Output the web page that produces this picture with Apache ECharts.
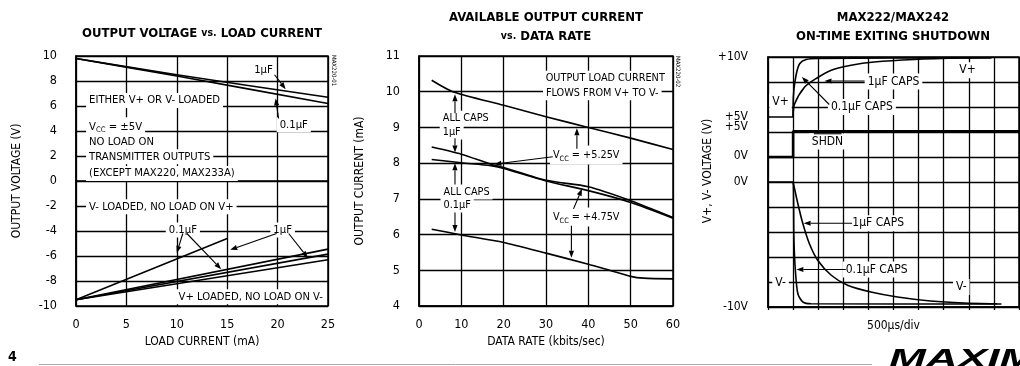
<!DOCTYPE html>
<html>
<head>
<meta charset="utf-8">
<script src="https://cdn.jsdelivr.net/npm/echarts@6/dist/echarts.min.js"></script>
<style>
  html, body { margin: 0; padding: 0; background: #fff; }
  #chart { width: 1020px; height: 366px; }
</style>
</head>
<body>
<div id="chart"></div>
<script>
const FONT = "'Liberation Sans Narrow', 'DejaVu Sans Condensed', sans-serif";

// --- chart 1: output voltage vs load current (mA, V)
const vBoth1uF = [[0, 9.8], [10, 8.5], [25, 6.7]];
const vBoth01uF = [[0, 9.8], [10, 8.4], [25, 6.2]];
const vMinus01uF = [[0, -9.5], [15, -4.6]];
const vPlus01uF = [[0, -9.5], [25, -5.45]];
const vMinus1uF = [[0, -9.5], [25, -5.85]];
const vPlus1uF = [[0, -9.5], [25, -6.3]];

// --- chart 2: available output current vs data rate (kbits/s, mA)
const rateTop = [[3, 10.32], [8, 10.0], [20, 9.62], [30, 9.3], [40, 9.0], [50, 8.7], [60, 8.38]];
const rateMidA = [[3, 8.45], [10, 8.25], [17, 7.97], [20, 7.88], [30, 7.52], [40, 7.34], [50, 6.95], [60, 6.48]];
const rateMidB = [[3, 8.1], [10, 8.01], [17, 7.93], [20, 7.85], [30, 7.5], [40, 7.23], [50, 6.9], [60, 6.46]];
const rateLow = [[3, 6.15], [10, 5.99], [20, 5.78], [30, 5.48], [40, 5.17], [45, 5.0], [50, 4.83], [53, 4.78], [60, 4.76]];

// --- chart 3: scope trace, in divisions (x: 500us/div)
const vPlusFast = [[0, 7.6], [1, 7.6], [1, 8.0], [1.03, 8.67], [1.13, 9.33], [1.26, 9.73], [1.52, 9.9], [1.98, 9.94], [5, 9.96], [8.9, 9.97]];
const vPlusSlow = [[1, 7.6], [1.05, 8.1], [1.46, 8.8], [1.92, 9.14], [2.52, 9.47], [3.31, 9.67], [4.23, 9.8], [5.82, 9.9], [7.8, 9.96], [8.9, 9.97]];
const shdnTrace = [[0, 6.0], [1, 6.0], [1, 7.03], [10, 7.03]];
const vMinusFast = [[0, 5.0], [1, 5.0], [1.03, 2.8], [1.09, 1.47], [1.19, 0.53], [1.39, 0.2], [1.72, 0.13], [9.3, 0.12]];
const vMinusSlow = [[1, 5.0], [1.19, 4.13], [1.39, 3.33], [1.65, 2.53], [1.98, 1.87], [2.52, 1.27], [3.17, 0.87], [4.1, 0.6], [5.16, 0.4], [6.48, 0.24], [7.8, 0.16], [9.13, 0.13]];
const scopeLabelPos = [10, 7.6, 7.2, 6.05, 5.0, 0];
const scopeLabelText = ['+10V', '+5V', '+5V', '0V', '0V', '-10V'];

// annotations: [text, x, y, align]
const notes1 = [
  ['1µF', 18.6, 8.9],
  ['0.1µF', 21.6, 4.5],
  ['EITHER V+ OR V- LOADED', 1.0, 6.45, 'left'],
  ['{t|V}{s|CC}{t| = ±5V}', 1.0, 4.35, 'left'],
  ['NO LOAD ON', 1.0, 3.15, 'left'],
  ['TRANSMITTER OUTPUTS', 1.0, 1.95, 'left'],
  ['(EXCEPT MAX220, MAX233A)', 1.0, 0.6, 'left'],
  ['V- LOADED, NO LOAD ON V+', 1.0, -2.05, 'left'],
  ['0.1µF', 10.6, -3.92],
  ['1µF', 20.5, -3.92],
  ['V+ LOADED, NO LOAD ON V-', 24.8, -9.25, 'right']
];
// arrows: [x1, y1, x2, y2, head]
const arrows1 = [
  [19.7, 8.5, 20.8, 7.35, 1],
  [20.1, 5.0, 19.8, 6.6, 1],
  [10.6, -4.2, 10.0, -5.75, 1],
  [11.0, -4.2, 14.4, -7.05, 1],
  [19.9, -4.2, 15.3, -5.5, 1],
  [21.1, -4.2, 23.0, -6.15, 1]
];
const notes2 = [
  ['OUTPUT LOAD CURRENT', 44.0, 10.38],
  ['FLOWS FROM V+ TO V-', 43.3, 9.97],
  ['ALL CAPS', 4.9, 9.26, 'left'],
  ['1µF', 4.9, 8.87, 'left'],
  ['ALL CAPS', 5.1, 7.19, 'left'],
  ['0.1µF', 5.1, 6.83, 'left'],
  ['{t|V}{s|CC}{t| = +5.25V}', 39.5, 8.23],
  ['{t|V}{s|CC}{t| = +4.75V}', 39.5, 6.49]
];
const arrows2 = [
  [8.5, 9.4, 8.5, 9.93, 1],
  [8.5, 8.7, 8.5, 8.3, 1],
  [8.5, 7.4, 8.5, 8.0, 1],
  [8.5, 6.62, 8.5, 6.07, 1],
  [31.6, 8.18, 17.8, 7.97, 1],
  [37.3, 8.4, 37.3, 8.98, 1],
  [36.5, 6.72, 38.5, 7.28, 1],
  [36.0, 6.25, 36.0, 5.35, 1]
];
const notes3 = [
  ['V+', 0.5, 8.2],
  ['V+', 7.95, 9.47],
  ['1µF CAPS', 5.0, 9.02],
  ['0.1µF CAPS', 3.74, 8.0],
  ['SHDN', 2.37, 6.62],
  ['1µF CAPS', 4.39, 3.35],
  ['0.1µF CAPS', 4.33, 1.5],
  ['V-', 0.5, 0.95],
  ['V-', 7.7, 0.8]
];
const arrows3 = [
  [3.85, 9.04, 2.25, 9.04, 1],
  [2.44, 8.1, 1.35, 9.2, 1],
  [3.35, 3.35, 1.42, 3.35, 1],
  [3.1, 1.5, 1.13, 1.5, 1],
  [1.83, 6.93, 2.93, 6.93, 0]
];

const chart = echarts.init(document.getElementById('chart'));

const grids = [
  { left: 76, top: 56, width: 252, height: 250 },
  { left: 419, top: 56, width: 254, height: 250 },
  { left: 768, top: 57, width: 251, height: 250 }
];

const split = { show: true, lineStyle: { color: '#000', width: 1.3 } };
const labelStyle = { color: '#000', fontFamily: FONT, fontSize: 12.5 };
const nameStyle = { color: '#000', fontFamily: FONT, fontSize: 12 };

function richSub(size) {
  return {
    t: { fontFamily: FONT, fontSize: size, lineHeight: 15 },
    s: { fontFamily: FONT, fontSize: size * 0.68, lineHeight: 15, verticalAlign: 'bottom' }
  };
}

function lineSeries(idx, data, width) {
  return {
    type: 'line', xAxisIndex: idx, yAxisIndex: idx, data: data,
    symbol: 'none', smooth: 0.25, silent: true, z: 4,
    lineStyle: { color: '#000', width: width || 1.6 }
  };
}

function noteSeries(idx, notes, size) {
  return {
    type: 'custom', xAxisIndex: idx, yAxisIndex: idx, z: 3, silent: true,
    data: notes.map(n => [n[1], n[2]]),
    renderItem(params, api) {
      const n = notes[params.dataIndex];
      const p = api.coord([api.value(0), api.value(1)]);
      return {
        type: 'text', x: p[0], y: p[1],
        style: {
          text: n[0], align: n[3] || 'center', verticalAlign: 'middle',
          fontFamily: FONT, fontSize: size, fill: '#000',
          backgroundColor: '#fff', padding: [2, 3], rich: richSub(size)
        }
      };
    }
  };
}

function arrowSeries(idx, arrows) {
  return {
    type: 'custom', xAxisIndex: idx, yAxisIndex: idx, z: 5, silent: true,
    data: arrows,
    encode: { x: [0, 2], y: [1, 3] },
    renderItem(params, api) {
      const a = api.coord([api.value(0), api.value(1)]);
      const b = api.coord([api.value(2), api.value(3)]);
      const head = api.value(4);
      const dx = b[0] - a[0], dy = b[1] - a[1];
      const len = Math.hypot(dx, dy) || 1;
      const ux = dx / len, uy = dy / len;
      const hl = head ? 7 : 0, hw = 2.6;
      const bx = b[0] - ux * hl, by = b[1] - uy * hl;
      const kids = [{
        type: 'line', shape: { x1: a[0], y1: a[1], x2: bx, y2: by },
        style: { stroke: '#000', lineWidth: 1.1 }
      }];
      if (head) {
        kids.push({
          type: 'polygon',
          shape: { points: [[b[0], b[1]], [bx - uy * hw, by + ux * hw], [bx + uy * hw, by - ux * hw]] },
          style: { fill: '#000' }
        });
      }
      return { type: 'group', children: kids };
    }
  };
}

const titleStyle = { fontFamily: FONT, fontWeight: 'bold', fontSize: 13, color: '#000', lineHeight: 19 };
const vsStyle = { fontFamily: FONT, fontWeight: 'bold', fontSize: 10.5, color: '#000', lineHeight: 19 };

chart.setOption({
  animation: false,
  textStyle: { fontFamily: FONT },
  title: [
    {
      text: 'OUTPUT VOLTAGE {s|vs.} LOAD CURRENT', left: 202, top: 24, padding: 0, textAlign: 'center',
      textStyle: Object.assign({ rich: { s: vsStyle } }, titleStyle)
    },
    {
      text: 'AVAILABLE OUTPUT CURRENT\n{s|vs.} DATA RATE', left: 546, top: 8, padding: 0, textAlign: 'center',
      textStyle: Object.assign({ rich: { s: vsStyle } }, titleStyle)
    },
    {
      text: 'MAX222/MAX242\nON-TIME EXITING SHUTDOWN', left: 893, top: 8, padding: 0, textAlign: 'center',
      textStyle: titleStyle
    }
  ],
  grid: grids.map(g => Object.assign({ show: true, borderColor: '#000', borderWidth: 1.5, backgroundColor: '#fff' }, g)),
  xAxis: [
    {
      gridIndex: 0, type: 'value', min: 0, max: 25, interval: 5,
      axisLine: { lineStyle: { color: '#000', width: 1.5 } }, axisTick: { show: false },
      axisLabel: Object.assign({ margin: 12 }, labelStyle), splitLine: split,
      name: 'LOAD CURRENT (mA)', nameLocation: 'middle', nameGap: 30, nameTextStyle: nameStyle
    },
    {
      gridIndex: 1, type: 'value', min: 0, max: 60, interval: 10,
      axisLine: { lineStyle: { color: '#000', width: 1.5 } }, axisTick: { show: false },
      axisLabel: Object.assign({ margin: 12 }, labelStyle), splitLine: split,
      name: 'DATA RATE (kbits/sec)', nameLocation: 'middle', nameGap: 30, nameTextStyle: nameStyle
    },
    {
      gridIndex: 2, type: 'value', min: 0, max: 10, interval: 1,
      axisLine: { lineStyle: { color: '#000', width: 1.5 } },
      axisTick: { show: true, length: 3, lineStyle: { color: '#000', width: 1.3 } },
      axisLabel: { show: false }, splitLine: split,
      name: '500µs/div', nameLocation: 'middle', nameGap: 13, nameTextStyle: nameStyle
    }
  ],
  yAxis: [
    {
      gridIndex: 0, type: 'value', min: -10, max: 10, interval: 2,
      axisLine: { show: true, lineStyle: { color: '#000', width: 1.5 } }, axisTick: { show: false },
      axisLabel: Object.assign({ margin: 19 }, labelStyle), splitLine: split,
      name: 'OUTPUT VOLTAGE (V)', nameLocation: 'middle', nameRotate: 90, nameGap: 53, nameTextStyle: nameStyle
    },
    {
      gridIndex: 1, type: 'value', min: 4, max: 11, interval: 1,
      axisLine: { show: true, lineStyle: { color: '#000', width: 1.5 } }, axisTick: { show: false },
      axisLabel: Object.assign({ margin: 19 }, labelStyle), splitLine: split,
      name: 'OUTPUT CURRENT (mA)', nameLocation: 'middle', nameRotate: 90, nameGap: 53, nameTextStyle: nameStyle
    },
    {
      gridIndex: 2, type: 'value', min: 0, max: 10, interval: 1,
      axisLine: { show: true, lineStyle: { color: '#000', width: 1.5 } }, axisTick: { show: false },
      axisLabel: Object.assign({
        margin: 20, showMinLabel: true, showMaxLabel: true, hideOverlap: false,
        customValues: scopeLabelPos,
        formatter: v => scopeLabelText[scopeLabelPos.indexOf(v)]
      }, labelStyle, { fontSize: 12 }),
      splitLine: split,
      name: 'V+, V- VOLTAGE (V)', nameLocation: 'middle', nameRotate: 90, nameGap: 50,
      nameTextStyle: Object.assign({ padding: [0, 0, 0, 22] }, nameStyle)
    }
  ],
  series: [
    lineSeries(0, vBoth1uF), lineSeries(0, vBoth01uF),
    lineSeries(0, vMinus01uF), lineSeries(0, vPlus01uF), lineSeries(0, vMinus1uF), lineSeries(0, vPlus1uF),
    noteSeries(0, notes1, 11.2), arrowSeries(0, arrows1),

    lineSeries(1, rateTop), lineSeries(1, rateMidA), lineSeries(1, rateMidB), lineSeries(1, rateLow),
    noteSeries(1, notes2, 10.8), arrowSeries(1, arrows2),

    lineSeries(2, vPlusFast), lineSeries(2, vPlusSlow), lineSeries(2, shdnTrace, 2.6),
    lineSeries(2, vMinusFast), lineSeries(2, vMinusSlow),
    noteSeries(2, notes3, 12), arrowSeries(2, arrows3)
  ],
  graphic: [
    { type: 'text', left: 8, top: 350, style: { text: '4', font: 'bold 14px ' + FONT, fill: '#000' } },
    { type: 'line', shape: { x1: 39, y1: 364.5, x2: 872, y2: 364.5 }, style: { stroke: '#aaa', lineWidth: 1 } },
    { type: 'text', x: 889, y: 347, scaleX: 1.7, style: { text: 'MAXIM', font: "italic 900 26px 'Liberation Sans', sans-serif", fill: '#000' } },
    { type: 'text', x: 337, y: 55, rotation: -Math.PI / 2, style: { text: 'MAX220-01', font: '6px ' + FONT, fill: '#000' } },
    { type: 'text', x: 681, y: 56, rotation: -Math.PI / 2, style: { text: 'MAX220-02', font: '6px ' + FONT, fill: '#000' } }
  ]
});
</script>
</body>
</html>
